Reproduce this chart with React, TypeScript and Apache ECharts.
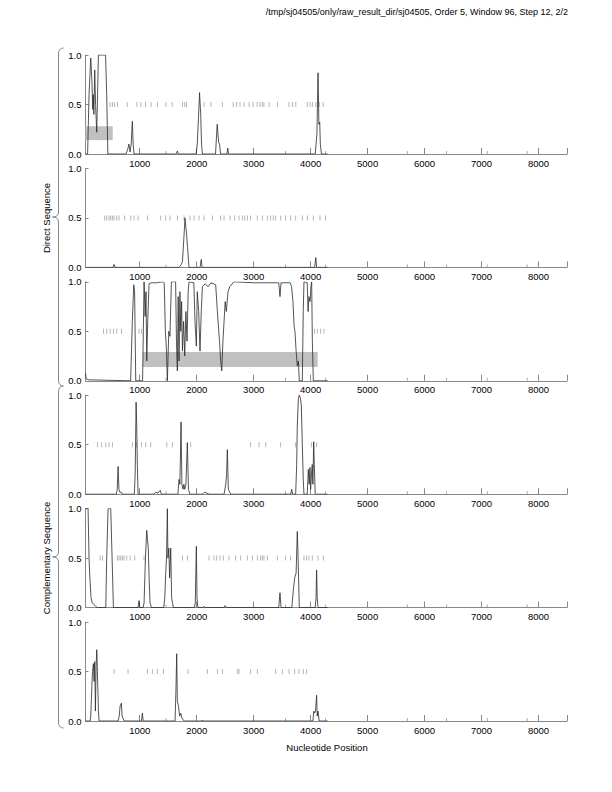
import React, { useEffect, useRef } from "react";
import * as echarts from "echarts";

const FONT = "'Liberation Sans', Arial, Helvetica, sans-serif";

const titleText = "/tmp/sj04505/only/raw_result_dir/sj04505, Order 5, Window 96, Step 12, 2/2";
const xLabel = "Nucleotide Position";
const directLabel = "Direct Sequence";
const complLabel = "Complementary Sequence";

const xMin = 48;
const xMax = 8500;
const xLabelValues = [1000, 2000, 3000, 4000, 5000, 6000, 7000, 8000];
const xTickValues = [1000, 2000, 3000, 4000, 5000, 6000, 7000, 8000, 8500];
const xMinorTicks = [1460, 3560, 4263, 5697, 6386, 7100, 7801];
const yTicks = [0, 0.5, 1.0];

// coding potential curves, [position, probability]
const frame1 = [
  [48, 0], [85, 0], [110, 0.6], [140, 0.97], [160, 0.75], [175, 0.45], [185, 0.6], [195, 0.4],
  [210, 0.85], [225, 0.5], [245, 0.22], [260, 0.6], [275, 1.0], [400, 1.0], [420, 0.6], [440, 0],
  [760, 0], [790, 0.05], [810, 0.1], [830, 0.02], [850, 0.1], [870, 0.33], [885, 0.1], [900, 0],
  [1640, 0], [1660, 0.03], [1680, 0], [1990, 0], [2010, 0.1], [2030, 0.35], [2050, 0.62],
  [2070, 0.4], [2085, 0.1], [2100, 0], [2330, 0], [2360, 0.3], [2385, 0.12], [2400, 0.1],
  [2420, 0], [2530, 0], [2545, 0.06], [2560, 0], [4080, 0], [4110, 0.2], [4130, 0.82],
  [4145, 0.3], [4160, 0.32], [4170, 0.1], [4190, 0], [4300, 0],
];
const frame2 = [
  [48, 0], [530, 0], [550, 0.03], [570, 0], [1690, 0], [1730, 0.03], [1750, 0.06], [1775, 0.3],
  [1795, 0.5], [1810, 0.4], [1820, 0.35], [1840, 0.2], [1865, 0], [2060, 0], [2080, 0.08],
  [2095, 0], [4070, 0], [4090, 0.1], [4105, 0], [4300, 0],
];
const frame3 = [
  [48, 0.08], [60, 0.02], [100, 0.01], [840, 0], [870, 0.6], [895, 0.97], [910, 0.9], [930, 0],
  [1050, 0], [1076, 1.0], [1095, 0.65], [1110, 0.9], [1123, 0.2], [1140, 0.6], [1164, 0.98],
  [1200, 0.99], [1300, 0.99], [1400, 1.0], [1430, 0.99], [1450, 0.5], [1470, 0.3], [1485, 0],
  [1510, 0.5], [1530, 0.45], [1556, 1.0], [1630, 1.0], [1645, 0.4], [1660, 0.1], [1675, 0.85],
  [1690, 0.2], [1705, 0.9], [1720, 0.5], [1735, 0.8], [1750, 0.3], [1770, 0.6], [1790, 0.25],
  [1810, 0.7], [1830, 0.4], [1850, 0.9], [1865, 1.0], [1950, 0.99], [1970, 0.6], [1994, 0.35],
  [2010, 0.9], [2035, 0.7], [2058, 0.3], [2080, 0.7], [2100, 0.95], [2150, 0.98], [2200, 0.95],
  [2250, 0.99], [2333, 0.97], [2363, 0.7], [2400, 0.4], [2421, 0.2], [2440, 0.1], [2460, 0.4],
  [2480, 0.6], [2500, 0.8], [2520, 0.7], [2550, 0.9], [2580, 0.95], [2655, 1.0], [3000, 0.99],
  [3440, 0.99], [3462, 0.85], [3480, 0.99], [3640, 0.99], [3665, 0.95], [3690, 0.8], [3710, 0.55],
  [3725, 0.5], [3745, 0.3], [3766, 0.15], [3785, 0.2], [3801, 0], [3854, 0], [3870, 0.7],
  [3883, 1.0], [3940, 0.99], [3955, 0.7], [3970, 0.85], [3990, 0.8], [4005, 0.95], [4018, 1.0],
  [4030, 0.4], [4047, 0], [4300, 0],
];
const frame4 = [
  [48, 0], [590, 0], [605, 0.05], [620, 0.28], [635, 0.05], [650, 0.02], [680, 0.02], [700, 0],
  [905, 0], [920, 0.2], [936, 0.93], [947, 0.7], [958, 0.3], [971, 0], [1250, 0], [1280, 0.02],
  [1320, 0.01], [1360, 0.04], [1380, 0], [1670, 0], [1690, 0.15], [1705, 0.1], [1725, 0.73],
  [1740, 0.1], [1760, 0.05], [1775, 0.1], [1790, 0.05], [1810, 0.1], [1836, 0.52], [1855, 0.05],
  [1880, 0], [2100, 0], [2140, 0.02], [2180, 0.01], [2220, 0], [2480, 0], [2510, 0.1],
  [2525, 0.2], [2538, 0.45], [2555, 0.05], [2580, 0.02], [2600, 0], [3650, 0], [3667, 0.05],
  [3685, 0], [3737, 0], [3755, 0.3], [3766, 0.7], [3785, 0.97], [3801, 1.0], [3820, 0.97],
  [3836, 0.9], [3854, 0.5], [3870, 0.15], [3883, 0], [3940, 0], [3959, 0.25], [3975, 0.1],
  [3988, 0.27], [4000, 0.05], [4020, 0.25], [4029, 0.3], [4040, 0.1], [4053, 0.53], [4065, 0.3],
  [4080, 0], [4300, 0],
];
const frame5 = [
  [48, 1.0], [93, 1.0], [110, 0.5], [125, 0.3], [145, 0.1], [165, 0.05], [199, 0.03], [230, 0.01],
  [260, 0], [404, 0], [420, 0.5], [444, 1.0], [491, 1.0], [510, 0.6], [538, 0], [970, 0],
  [988, 0.07], [1000, 0], [1060, 0], [1076, 0.05], [1100, 0.5], [1123, 0.78], [1135, 0.7],
  [1150, 0.6], [1165, 0.3], [1180, 0.05], [1205, 0], [1420, 0], [1440, 0.1], [1456, 0.35],
  [1470, 0.5], [1485, 1.0], [1495, 0.5], [1510, 0.6], [1525, 0.3], [1544, 0.6], [1560, 0.1],
  [1590, 0], [1960, 0], [1975, 0.05], [1994, 0.62], [2005, 0.1], [2020, 0], [2100, 0],
  [2130, 0.01], [2160, 0], [2480, 0], [2500, 0.02], [2520, 0], [3440, 0], [3462, 0.15],
  [3480, 0], [3670, 0], [3700, 0.2], [3720, 0.3], [3745, 0.35], [3766, 0.77], [3780, 0.5],
  [3801, 0], [4080, 0], [4095, 0.1], [4105, 0.38], [4115, 0.1], [4130, 0], [4300, 0],
];
const frame6 = [
  [48, 0], [130, 0], [140, 0.05], [170, 0.5], [187, 0.58], [199, 0.4], [210, 0.6], [222, 0.1],
  [234, 0.55], [246, 0.72], [257, 0.5], [275, 0.1], [287, 0], [620, 0], [640, 0.05], [655, 0.15],
  [678, 0.18], [690, 0.05], [710, 0.02], [730, 0], [1030, 0], [1047, 0.08], [1060, 0], [1620, 0],
  [1635, 0.3], [1649, 0.68], [1660, 0.2], [1680, 0.15], [1700, 0.05], [1720, 0.08], [1740, 0.03],
  [1780, 0], [2090, 0], [2100, 0.01], [2115, 0], [4040, 0], [4055, 0.1], [4070, 0.08],
  [4085, 0.1], [4105, 0.26], [4115, 0.05], [4130, 0.1], [4150, 0], [4300, 0],
];

// stop codon positions per frame (drawn at 0.5)
const stops1 = [480, 520, 560, 610, 780, 950, 1020, 1100, 1200, 1310, 1460, 1570, 1750, 1790, 1820,
  2130, 2250, 2450, 2640, 2700, 2760, 2830, 2920, 2990, 3060, 3110, 3150, 3180, 3270, 3420,
  3620, 3680, 3740, 3940, 3990, 4030, 4090, 4150, 4220];
const stops2 = [386, 421, 462, 491, 520, 550, 596, 637, 737, 842, 901, 971, 1135, 1368, 1456, 1532,
  1661, 1778, 1883, 1953, 2041, 2129, 2275, 2421, 2480, 2585, 2667, 2743, 2801, 2842, 2889, 2947,
  3064, 3152, 3240, 3298, 3345, 3386, 3474, 3561, 3649, 3737, 3854, 3942, 4047, 4164, 4263];
const stops3 = [363, 421, 480, 538, 596, 678, 988, 1029, 4070, 4117, 4175, 4234];
const stops4 = [257, 333, 404, 462, 520, 871, 947, 1029, 1105, 1193, 1474, 1573, 1836, 1895,
  2947, 3094, 3211, 3474, 3737, 4012, 4105];
const stops5 = [304, 345, 608, 637, 667, 696, 725, 772, 830, 912, 1076, 1749, 1836, 2216, 2304,
  2351, 2409, 2468, 2567, 2684, 2772, 2889, 2977, 3064, 3123, 3152, 3181, 3240, 3415, 3561, 3649,
  3883, 3930, 3971, 4029, 4129, 4222];
const stops6 = [550, 795, 1135, 1222, 1310, 1415, 1848, 2187, 2363, 2450, 2713, 2743, 2947, 3064,
  3386, 3503, 3620, 3719, 3795, 3871, 3930];

// predicted genes: [frameIndex, start, end, yLow, yHigh]
const genes = [
  [0, 48, 526, 0.14, 0.28],
  [2, 1053, 4123, 0.14, 0.29],
];

const curves = [frame1, frame2, frame3, frame4, frame5, frame6];
const stops = [stops1, stops2, stops3, stops4, stops5, stops6];

const GRID_LEFT = 85.5;
const GRID_WIDTH = 481.5;
const GRID_TOP0 = 55;
const GRID_STEP = 113.4;
const GRID_H = 99;

function bracePath(x: number, top: number, bottom: number) {
  const m = (top + bottom) / 2;
  return `M ${x + 5} ${top} Q ${x} ${top} ${x} ${top + 6} L ${x} ${m - 5} Q ${x} ${m} ${x - 6} ${m} Q ${x} ${m} ${x} ${m + 5} L ${x} ${bottom - 6} Q ${x} ${bottom} ${x + 5} ${bottom}`;
}

let registered = false;
function registerBraces() {
  if (registered) return;
  registered = true;
  echarts.graphic.registerShape("braceDirect", echarts.graphic.extendPath(bracePath(58.5, 48, 386), {}));
  echarts.graphic.registerShape("braceCompl", echarts.graphic.extendPath(bracePath(58.5, 386, 728), {}));
}

export default function App() {
  const ref = useRef<HTMLDivElement>(null);
  useEffect(() => {
    if (!ref.current) return;
    registerBraces();
    const chart = echarts.init(ref.current, undefined, { renderer: "svg" });
    const grids: any[] = [];
    const xAxes: any[] = [];
    const yAxes: any[] = [];
    const series: any[] = [];
    for (let i = 0; i < 6; i++) {
      grids.push({ left: GRID_LEFT, width: GRID_WIDTH, top: GRID_TOP0 + GRID_STEP * i, height: GRID_H });
      xAxes.push({
        type: "value", gridIndex: i, min: xMin, max: xMax,
        axisLine: { show: true, lineStyle: { color: "#888", width: 1 } },
        axisTick: { show: true, inside: true, length: 6, customValues: xTickValues, lineStyle: { color: "#888" } },
        axisLabel: { customValues: xLabelValues, color: "#000", fontSize: 9.5, fontFamily: FONT, margin: 4, formatter: (v: number) => String(Math.round(v)) },
        splitLine: { show: false },
      });
      yAxes.push({
        type: "value", gridIndex: i, min: 0, max: 1,
        axisLine: { show: true, lineStyle: { color: "#888", width: 1 } },
        axisTick: { show: true, inside: true, length: 3, customValues: yTicks, lineStyle: { color: "#888" } },
        axisLabel: { customValues: yTicks, color: "#000", fontSize: 9.5, fontFamily: FONT, margin: 4, formatter: (v: number) => v.toFixed(1) },
        splitLine: { show: false },
      });
      const areas = genes.filter((g) => g[0] === i).map((g) => [
        { coord: [g[1], g[3]] }, { coord: [g[2], g[4]] },
      ]);
      series.push({
        type: "scatter", xAxisIndex: i, yAxisIndex: i, z: 1,
        data: stops[i].map((x) => [x, 0.5]),
        symbol: "rect", symbolSize: [0.9, 5],
        itemStyle: { color: "#999" }, silent: true,
        markArea: areas.length ? { silent: true, itemStyle: { color: "#c0c0c0", opacity: 1 }, data: areas } : undefined,
      });
      series.push({
        type: "scatter", xAxisIndex: i, yAxisIndex: i, z: 1,
        data: xMinorTicks.map((x) => [x, 0]),
        symbol: "rect", symbolSize: [0.9, 3], symbolOffset: [0, -1.5],
        itemStyle: { color: "#888" }, silent: true,
      });
      series.push({
        type: "line", xAxisIndex: i, yAxisIndex: i, z: 3,
        data: curves[i], showSymbol: false, symbol: "none",
        lineStyle: { color: "#2a2a2a", width: 0.8 }, silent: true,
      });
    }
    chart.setOption({
      animation: false,
      grid: grids, xAxis: xAxes, yAxis: yAxes, series,
      graphic: [
        { type: "text", right: 44, top: 7, style: { text: titleText, font: `9px ${FONT}`, fill: "#000" } },
        { type: "text", x: 327, y: 747, style: { text: xLabel, font: `9.5px ${FONT}`, fill: "#000", align: "center", verticalAlign: "middle" } },
        { type: "text", x: 46, y: 218, rotation: Math.PI / 2, style: { text: directLabel, font: `9.5px ${FONT}`, fill: "#000", align: "center", verticalAlign: "middle" } },
        { type: "text", x: 46, y: 558, rotation: Math.PI / 2, style: { text: complLabel, font: `9.5px ${FONT}`, fill: "#000", align: "center", verticalAlign: "middle" } },
        { type: "braceDirect", style: { stroke: "#888", fill: "none", lineWidth: 1 } },
        { type: "braceCompl", style: { stroke: "#888", fill: "none", lineWidth: 1 } },
      ],
    });
    return () => chart.dispose();
  }, []);
  return <div ref={ref} style={{ position: "fixed", left: 0, top: 0, width: 612, height: 792, background: "#fff" }} />;
}
